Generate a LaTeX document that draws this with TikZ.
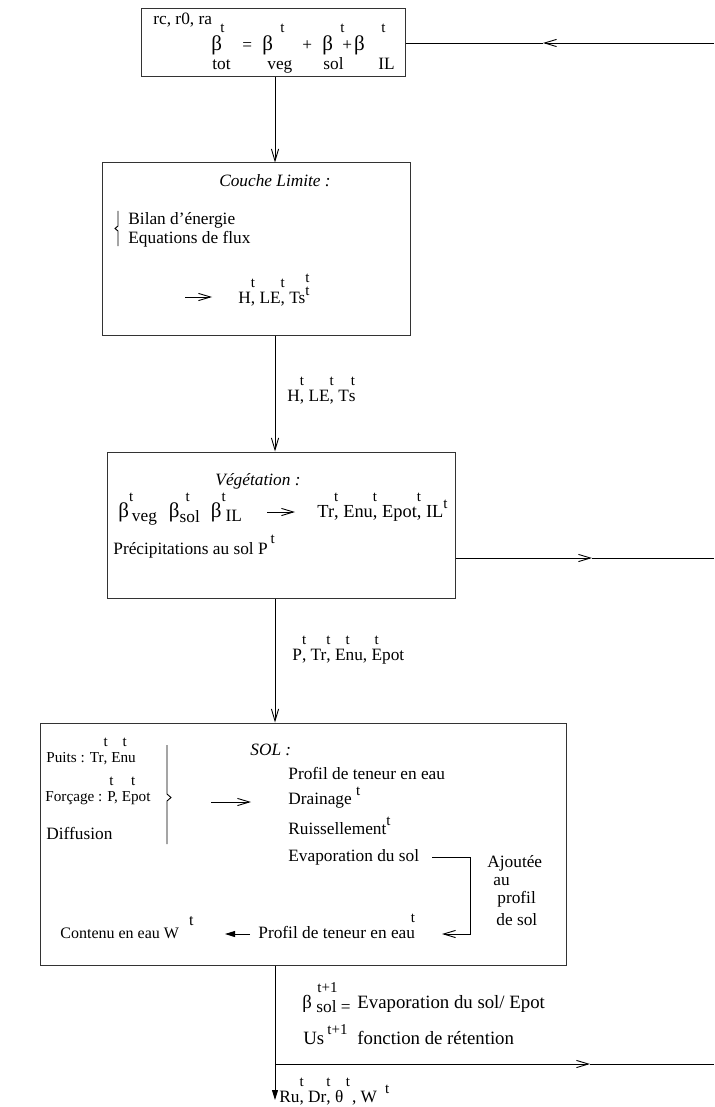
\documentclass[tikz,border=0pt]{standalone}
\usepackage{fontspec}
\setmainfont{Liberation Serif}
\usetikzlibrary{arrows.meta,fit}

\newcommand{\tsz}{\fontsize{7.5}{8}\selectfont}
\newcommand{\up}[1]{\rlap{\raisebox{8pt}{\tsz #1}}}
\newcommand{\upl}[1]{\llap{\raisebox{8pt}{\tsz #1}}}
\newcommand{\tsup}[1]{\raisebox{4.5pt}{\tsz #1}}
\newcommand{\bb}{{\fontsize{10.5}{12}\selectfont β}}

\begin{document}
\begin{tikzpicture}[x=0.5pt,y=-0.5pt,
  box/.style={draw=black!80, line width=0.5pt, inner sep=0pt},
  lbl/.style={anchor=base west, inner sep=0pt, font=\fontsize{8.65}{10}\selectfont},
  small/.style={lbl, font=\fontsize{7.6}{9}\selectfont},
  big/.style={lbl, font=\fontsize{9.4}{11}\selectfont},
  ttl/.style={lbl, anchor=base, font=\fontsize{8.65}{10}\selectfont\itshape},
  flow/.style={line width=0.45pt, -{Straight Barb[length=6pt,width=3.6pt]}},
  fat/.style={line width=0.45pt, -{Triangle[length=5pt,width=3pt]}},
  wire/.style={line width=0.45pt}]
\fill[white] (0,0) rectangle (714,1107);
\useasboundingbox (0,0) rectangle (714,1107);
\coordinate (ax) at (275,0);

% resistances et beta total
\node[box, fit={(141,9)(405,77)}] (topb) {};
\node[lbl] (params) at (153,25) {rc, r0, ra};
\foreach \x/\s [count=\i] in {211/\bb, 242/{=}, 262/\bb, 302/{+}, 322/\bb, 342/{+\kern1pt\bb}}
  \node[lbl] (eq\i) at (\x,51) {\s};
\foreach \x [count=\i] in {220,280,340,381}
  \node[lbl, font=\tsz] (eqt\i) at (\x,33) {t};
\foreach \x/\s [count=\i] in {212/tot, 267/veg, 323/sol, 378/IL}
  \node[lbl] (eqs\i) at (\x,70) {\s};

% couche limite
\node[box, fit={(102,163)(410,335)}] (clb) {};
\node[ttl] (clt) at (275,187) {Couche Limite :};
\draw[wire] (118,211) -- (118,226) -- (115,228.5) -- (118,231) -- (118,246);
\node[lbl] (bil) at (128,225) {Bilan d'énergie};
\node[lbl] (eqf) at (128,243) {Equations de flux};
\coordinate (ca0) at (185,297);
\coordinate (ca1) at (212,297);
\draw[flow] (ca0) -- (ca1);
\node[lbl] (clout) at (238,303) {H\up{t}, LE\up{t}, Ts\rlap{\raisebox{10.5pt}{\tsz t}}\raisebox{4pt}{\tsz t}};

% vegetation
\node[box, fit={(107,452)(455,598)}] (vegb) {};
\node[ttl] (vegt) at (258,485) {Végétation :};
\node[lbl] (betas) at (118,517) {\bb\up{t}\,\raisebox{-2pt}{veg}\hspace{6pt}\bb\up{\kern3pt t}\raisebox{-2.5pt}{sol}\hspace{5.5pt}\bb\up{t}\hspace{2pt}\raisebox{-2pt}{IL}};
\coordinate (va0) at (267,512);
\coordinate (va1) at (295,512);
\draw[flow] (va0) -- (va1);
\node[lbl, font=\fontsize{9.2}{11}\selectfont] (vegout) at (317,517) {Tr\up{t}, Enu\up{t}, Epot\up{t}, IL\tsup{t}};
\node[lbl] (prec) at (113,554) {Précipitations au sol P\,\raisebox{5.5pt}{\tsz t}};

% sol
\node[box, fit={(40,723)(566,965)}] (solb) {};
\node[small] (puits) at (46,762) {Puits : Tr\up{t}, E\up{\kern1pt t}nu};
\node[small] (forc) at (45,801) {Forçage : \up{\kern1pt t}P, E\up{t}pot};
\node[lbl] (diff) at (46,839) {Diffusion};
\draw[wire] (167,745) -- (167,794) -- (171,797.5) -- (167,801) -- (167,844);
\coordinate (sa0) at (211,802);
\coordinate (sa1) at (251,802);
\draw[flow] (sa0) -- (sa1);
\node[lbl, font=\fontsize{8.65}{10}\selectfont\itshape] (solt) at (250,755) {SOL :};
\node[lbl] (prof1) at (288,779) {Profil de teneur en eau};
\node[lbl] (drain) at (288,804) {Drainage \tsup{t}};
\node[lbl] (ruis) at (288,834) {Ruissellement\tsup{t}};
\node[lbl] (evap) at (288,861) {Evaporation du sol};
\coordinate (lp0) at (432,857);
\coordinate (lp1) at (470,857);
\coordinate (lp2) at (470,934);
\coordinate (lp3) at (442,934);
\draw[flow] (lp0) -- (lp1) -- (lp2) -- (lp3);
\node[anchor=north west, inner sep=0pt, align=left, font=\fontsize{8.65}{9}\selectfont] (ajout) at (487,855)
  {Ajoutée\\\hspace*{3pt}au\\\hspace*{5pt}profil\\[2pt]\hspace*{4.5pt}de sol};
\node[lbl, font=\fontsize{8}{10}\selectfont] (cont) at (60,938) {Contenu en eau W\hspace{5pt}\raisebox{6.5pt}{t}};
\coordinate (fa0) at (250,934);
\coordinate (fa1) at (225,934);
\draw[fat] (fa0) -- (fa1);
\node[lbl] (prof2) at (258,938) {Profil de teneur en eau\upl{t}};

% liaisons verticales
\draw[flow] (topb.south -| ax) -- (clb.north -| ax);
\draw[flow] (clb.south -| ax) -- (vegb.north -| ax);
\draw[flow] (vegb.south -| ax) -- (solb.north -| ax);
\coordinate (endp) at (275,1100);
\draw[fat] (solb.south -| ax) -- (endp);
\node[lbl] (flx) at (287,401) {H\up{t}, LE\up{t}, T\up{\kern1pt t}s};
\node[lbl] (pin) at (292,660) {P\up{t}, Tr\up{t}, E\up{t}nu, \up{\kern1.5pt t}Epot};

% retours a droite
\coordinate (r1) at (714,43);
\coordinate (m1) at (543,43);
\draw[flow] (r1) -- (m1);
\draw[wire] (m1) -- (topb.east);
\coordinate (r2) at (714,558);
\coordinate (m2) at (592,558);
\draw[flow] (vegb.east |- r2) -- (m2);
\draw[wire] (m2) -- (r2);
\coordinate (jn) at (275,1064);
\coordinate (m3) at (590,1064);
\coordinate (r3) at (714,1064);
\draw[flow] (jn) -- (m3);
\draw[wire] (m3) -- (r3);

% mise a jour
\node[big] (bsol) at (302,1008) {β};
\node[lbl, font=\tsz] (bsolt) at (317,992) {t+1};
\node[lbl] (bsols) at (316,1012) {sol =};
\node[big] (evsol) at (357,1008) {Evaporation du sol/ Epot};
\node[big] (us) at (303,1044) {Us\,\raisebox{5pt}{\tsz t+1}};
\node[big] (ret) at (357,1044) {fonction de rétention};
\node[lbl] (outs) at (279,1102) {Ru\up{t}, Dr\up{t}, θ\up{\,t}\ \ , W\hspace{4pt}\tsup{t}};
\end{tikzpicture}
\end{document}
